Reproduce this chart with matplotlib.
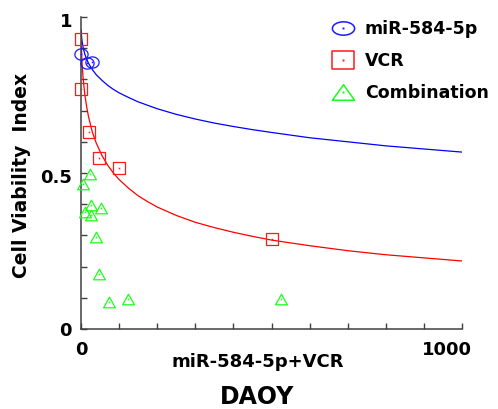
import numpy as np
import matplotlib
matplotlib.use("Agg")
import matplotlib.pyplot as plt
from matplotlib.path import Path
from matplotlib.lines import Line2D
from matplotlib.transforms import ScaledTranslation

plt.rcParams['font.family'] = ['DejaVu Sans']
plt.rcParams['font.weight'] = 'bold'

# scatter data
mir_x = [1, 15, 28]
mir_y = [0.880, 0.852, 0.855]

vcr_x = [1, 1, 22, 48, 100, 500]
vcr_y = [0.929, 0.768, 0.630, 0.547, 0.515, 0.288]

combo_x = [24, 4, 26, 10, 26, 52, 39, 48, 73, 124, 525]
combo_y = [0.497, 0.465, 0.397, 0.375, 0.365, 0.388, 0.295, 0.176, 0.086, 0.096, 0.096]

# fitted curves, points
curve_x = [0.5, 1, 2, 3, 5, 7, 10, 15, 20, 30, 40, 55, 70, 85, 100, 125, 150, 175, 200, 250,
           300, 350, 400, 450, 500, 600, 700, 800, 900, 1000]
mir_fit = [0.958, 0.946, 0.931, 0.921, 0.906, 0.895, 0.881, 0.864, 0.851, 0.831, 0.815,
           0.797, 0.781, 0.768, 0.757, 0.742, 0.728, 0.717, 0.706, 0.688, 0.673, 0.660,
           0.649, 0.639, 0.630, 0.613, 0.600, 0.587, 0.577, 0.567]
vcr_fit = [0.935, 0.909, 0.875, 0.849, 0.813, 0.787, 0.752, 0.711, 0.679, 0.630, 0.596,
           0.556, 0.525, 0.500, 0.479, 0.451, 0.427, 0.408, 0.391, 0.364, 0.342, 0.325,
           0.310, 0.297, 0.285, 0.267, 0.251, 0.238, 0.228, 0.218]

labels = ['miR-584-5p', 'VCR', 'Combination']
blue, red, green = '#1a1aff', '#ff1a1a', '#1aff1a'


def oval(aspect):
    t = np.linspace(0, 2 * np.pi, 61)
    return Path(np.column_stack([np.cos(t), aspect * np.sin(t)]), closed=True)


def box(aspect):
    return Path([(-1, -aspect), (1, -aspect), (1, aspect), (-1, aspect), (-1, -aspect)], closed=True)


def tri(aspect):
    return Path([(0, aspect), (-1, -aspect), (1, -aspect), (0, aspect)], closed=True)


fig = plt.figure(figsize=(4.98, 4.09), dpi=100)
ax = fig.add_axes([81 / 498, 1 - 329 / 409, 381 / 498, 312 / 409])

ax.plot(curve_x, mir_fit, color='#0000ff', lw=0.9, zorder=2)
ax.plot(curve_x, vcr_fit, color='#ff0000', lw=0.9, zorder=2)

series = [(mir_x, mir_y, blue, oval(0.85), 9.5, oval(0.6)),
          (vcr_x, vcr_y, red, box(1.0), 9.0, box(0.8)),
          (combo_x, combo_y, green, tri(0.9), 8.5, tri(0.7))]
handles = []
for xs, ys, c, mk, ms, legmk in series:
    ax.plot(xs, ys, ls='none', marker=mk, ms=ms, mfc='none', mec=c, mew=0.9, clip_on=False, zorder=3)
    ax.plot(xs, ys, ls='none', marker='s', ms=1.1, mfc=c, mec=c, mew=0, clip_on=False, zorder=3)
    h1 = Line2D([], [], ls='none', marker=legmk, ms=16, mfc='none', mec=c, mew=1.1)
    h2 = Line2D([], [], ls='none', marker='s', ms=1.4, mfc=c, mec=c, mew=0)
    handles.append((h1, h2))

ax.set_xlim(0, 1000)
ax.set_ylim(0, 1)
ax.set_xticks([0, 1000])
ax.set_xticklabels(['0', '1000'])
ax.set_xticks(np.arange(0, 1001, 100), minor=True)
ax.set_yticks([0, 0.5, 1])
ax.set_yticklabels(['0', '0.5', '1'])
ax.set_yticks(np.arange(0, 1.01, 0.1), minor=True)
ax.tick_params(which='both', direction='in', length=4, width=1, color='#404040', labelsize=13)
ax.tick_params(axis='x', pad=8.5)
ax.tick_params(axis='y', pad=6.5)
for s in ['top', 'right']:
    ax.spines[s].set_visible(False)
for s in ['left', 'bottom']:
    ax.spines[s].set_color('#404040')
    ax.spines[s].set_linewidth(1.1)

# tick labels sit a little off their ticks in the original
xl = ax.get_xticklabels()[1]
xl.set_transform(xl.get_transform() + ScaledTranslation(-0.15, 0, fig.dpi_scale_trans))
yl = ax.get_yticklabels()
for lab, dy in zip(yl, [0.0, -0.03, -0.03]):
    lab.set_transform(lab.get_transform() + ScaledTranslation(0, dy, fig.dpi_scale_trans))

ax.set_xlabel('miR-584-5p+VCR', fontsize=13, fontweight='bold')
ax.xaxis.label.set_va('center')
ax.xaxis.set_label_coords((258 - 81) / 381, (329 - 362) / 312)
ax.set_ylabel('Cell Viability  Index', fontsize=13.5, fontweight='bold')
ax.yaxis.label.set_va('center')
ax.yaxis.set_label_coords((22 - 81) / 381, (329 - 175) / 312)

fig.text(257 / 498, 1 - 396.5 / 409, 'DAOY', fontsize=17, fontweight='bold', ha='center', va='center')

fig.legend(handles, labels, loc='upper left', bbox_to_anchor=(331.7 / 498, 1 - 20 / 409),
           frameon=False, borderpad=0, borderaxespad=0, handlelength=1.3, handletextpad=0.6,
           labelspacing=0.81, prop={'size': 12.5, 'weight': 'bold'})

fig.savefig('out.png', dpi=100)
